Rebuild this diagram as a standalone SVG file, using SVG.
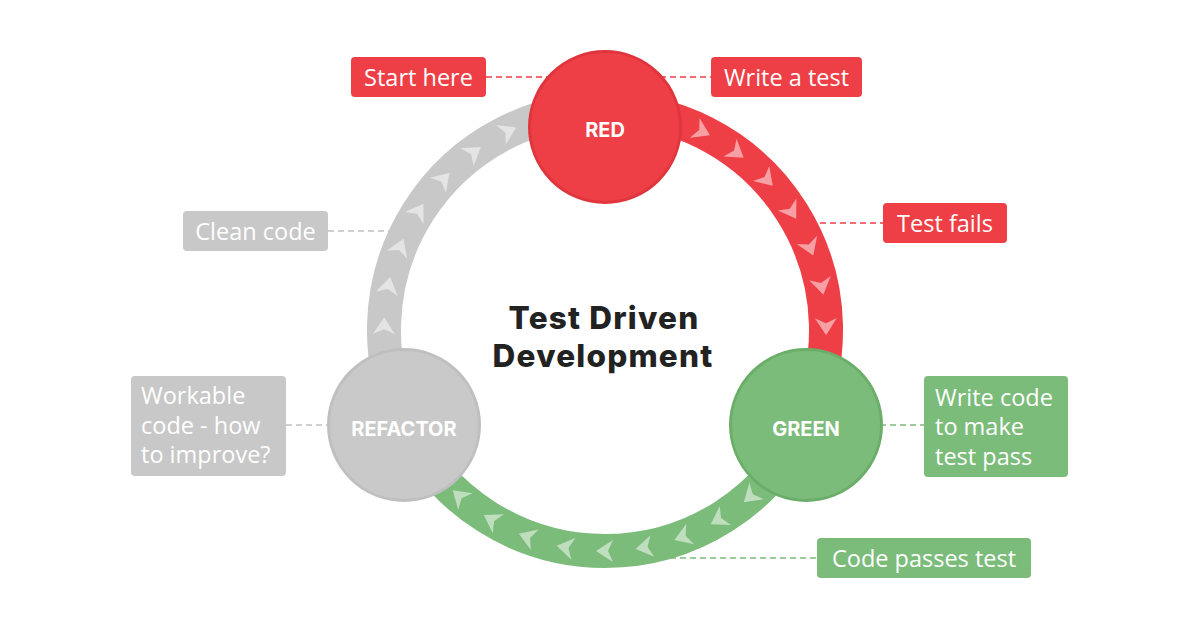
<svg xmlns="http://www.w3.org/2000/svg" xmlns:xlink="http://www.w3.org/1999/xlink" width="1200" height="628" viewBox="0 0 1200 628">
<style>
.band{fill:none;stroke-width:34}
.lbl{font-family:"Open Sans","Noto Sans","Liberation Sans",sans-serif;font-size:23.5px;fill:#fff}
.node{font-family:Inter,"Liberation Sans",sans-serif;font-weight:700;font-size:20px;fill:#fff;text-anchor:middle}
.title{font-family:Inter,"Liberation Sans",sans-serif;font-weight:800;font-size:31.5px;fill:#222;text-anchor:middle;letter-spacing:1.2px}
.dash{stroke-width:1.3;stroke-dasharray:6 4;fill:none}
.chev{fill:#fff;fill-opacity:0.5}
</style>
<defs>
<polygon id="chev" class="chev" points="9,0 -8,-11 -3,0 -8,11"/>
</defs>
<rect width="1200" height="628" fill="#fff"/>
<g id="connectors">
<line class="dash" stroke="#ee3e46" x1="486" y1="77" x2="550" y2="77"/>
<line class="dash" stroke="#ee3e46" x1="660" y1="77" x2="711" y2="77"/>
<line class="dash" stroke="#ee3e46" x1="800" y1="223" x2="883" y2="223"/>
<line class="dash" stroke="#7cbc7a" x1="870" y1="425" x2="924" y2="425"/>
<line class="dash" stroke="#7cbc7a" x1="660" y1="558" x2="817" y2="558"/>
<line class="dash" stroke="#c0c0c0" x1="328" y1="231" x2="420" y2="231"/>
<line class="dash" stroke="#c0c0c0" x1="286" y1="425" x2="340" y2="425"/>
</g>
<g id="ring">
<path class="band" stroke="#ee3e46" d="M 605 109 A 221 221 0 0 1 804.8 424.5"/>
<path class="band" stroke="#7cbc7a" d="M 804.8 424.5 A 221 221 0 0 1 405.2 424.5"/>
<path class="band" stroke="#c8c8c8" d="M 405.2 424.5 A 221 221 0 0 1 605 109"/>
<g id="chevrons">
<use xlink:href="#chev" transform="rotate(-64 605 330) translate(826 330) rotate(90)"/>
<use xlink:href="#chev" transform="rotate(-53.5 605 330) translate(826 330) rotate(90)"/>
<use xlink:href="#chev" transform="rotate(-43 605 330) translate(826 330) rotate(90)"/>
<use xlink:href="#chev" transform="rotate(-32.5 605 330) translate(826 330) rotate(90)"/>
<use xlink:href="#chev" transform="rotate(-22 605 330) translate(826 330) rotate(90)"/>
<use xlink:href="#chev" transform="rotate(-11.5 605 330) translate(826 330) rotate(90)"/>
<use xlink:href="#chev" transform="rotate(-1 605 330) translate(826 330) rotate(90)"/>
<use xlink:href="#chev" transform="rotate(48.8 605 330) translate(826 330) rotate(90)"/>
<use xlink:href="#chev" transform="rotate(59.1 605 330) translate(826 330) rotate(90)"/>
<use xlink:href="#chev" transform="rotate(69.4 605 330) translate(826 330) rotate(90)"/>
<use xlink:href="#chev" transform="rotate(79.7 605 330) translate(826 330) rotate(90)"/>
<use xlink:href="#chev" transform="rotate(90 605 330) translate(826 330) rotate(90)"/>
<use xlink:href="#chev" transform="rotate(100.3 605 330) translate(826 330) rotate(90)"/>
<use xlink:href="#chev" transform="rotate(110.6 605 330) translate(826 330) rotate(90)"/>
<use xlink:href="#chev" transform="rotate(120.9 605 330) translate(826 330) rotate(90)"/>
<use xlink:href="#chev" transform="rotate(131.2 605 330) translate(826 330) rotate(90)"/>
<use xlink:href="#chev" transform="rotate(181 605 330) translate(826 330) rotate(90)"/>
<use xlink:href="#chev" transform="rotate(191.5 605 330) translate(826 330) rotate(90)"/>
<use xlink:href="#chev" transform="rotate(202 605 330) translate(826 330) rotate(90)"/>
<use xlink:href="#chev" transform="rotate(212.5 605 330) translate(826 330) rotate(90)"/>
<use xlink:href="#chev" transform="rotate(223 605 330) translate(826 330) rotate(90)"/>
<use xlink:href="#chev" transform="rotate(233.5 605 330) translate(826 330) rotate(90)"/>
<use xlink:href="#chev" transform="rotate(244 605 330) translate(826 330) rotate(90)"/>
</g>
</g>
<g id="node-red">
<circle cx="605" cy="127" r="75.5" fill="#ee3e46" stroke="#df353d" stroke-width="3"/>
<text class="node" x="605" y="137">RED</text>
</g>
<g id="node-green">
<circle cx="806" cy="425" r="75.5" fill="#7cbc7a" stroke="#6bae69" stroke-width="3"/>
<text class="node" x="806" y="436">GREEN</text>
</g>
<g id="node-refactor">
<circle cx="404" cy="425" r="75.5" fill="#c9c9c9" stroke="#bfbfbf" stroke-width="3"/>
<text class="node" x="404" y="436">REFACTOR</text>
</g>
<g id="title">
<text class="title" x="604" y="329">Test Driven</text>
<text class="title" x="603" y="367">Development</text>
</g>
<g id="label-start">
<rect x="351" y="57" width="135" height="40" rx="4" fill="#ee3e46"/>
<text class="lbl" x="418.5" y="86" text-anchor="middle">Start here</text>
</g>
<g id="label-write-test">
<rect x="711" y="57" width="151" height="40" rx="4" fill="#ee3e46"/>
<text class="lbl" x="786.5" y="86" text-anchor="middle">Write a test</text>
</g>
<g id="label-test-fails">
<rect x="883" y="203" width="124" height="40" rx="4" fill="#ee3e46"/>
<text class="lbl" x="945" y="232" text-anchor="middle">Test fails</text>
</g>
<g id="label-write-code">
<rect x="924" y="376" width="144" height="101" rx="4" fill="#7cbc7a"/>
<text class="lbl" x="935" y="406">Write code</text>
<text class="lbl" x="935" y="435">to make</text>
<text class="lbl" x="935" y="465">test pass</text>
</g>
<g id="label-code-passes">
<rect x="817" y="538" width="214" height="40" rx="4" fill="#7cbc7a"/>
<text class="lbl" x="924" y="567" text-anchor="middle">Code passes test</text>
</g>
<g id="label-clean">
<rect x="183" y="211" width="145" height="40" rx="4" fill="#c8c8c8"/>
<text class="lbl" x="255.5" y="240" text-anchor="middle">Clean code</text>
</g>
<g id="label-workable">
<rect x="131" y="376" width="155" height="100" rx="4" fill="#c8c8c8"/>
<text class="lbl" x="141" y="404">Workable</text>
<text class="lbl" x="141" y="434">code - how</text>
<text class="lbl" x="141" y="463">to improve?</text>
</g>
</svg>
